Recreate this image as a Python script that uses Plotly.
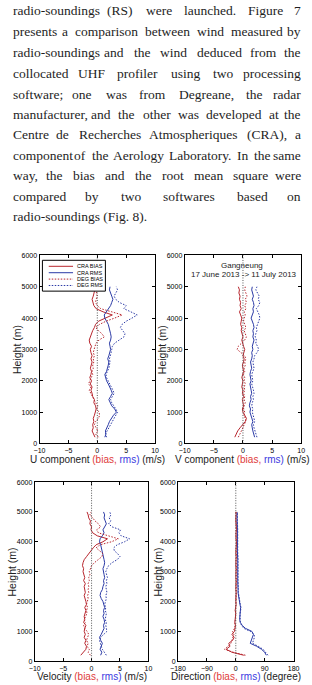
import plotly.graph_objects as go

W, H = 312, 685

# ---------------- text paragraph ----------------
paragraph_lines = [
    "radio-soundings (RS) were launched. Figure 7",
    "presents a comparison between wind measured by",
    "radio-soundings and the wind deduced from the",
    "collocated UHF profiler using two processing",
    "software; one was from Degreane, the radar",
    "manufacturer, and the other was developed at the",
    "Centre de Recherches Atmospheriques (CRA), a",
    "component of the Aerology Laboratory. In the same",
    "way, the bias and the root mean square were",
    "compared by two softwares based on",
    "radio-soundings (Fig. 8).",
]
line_centers = [7, 28, 49, 70, 91, 111.5, 132, 153, 173.5, 194, 215]

# ---------------- data ----------------
heights = [200, 300, 400, 500, 600, 700, 800, 900, 1000, 1100, 1200, 1300, 1400,
           1500, 1600, 1700, 1800, 1900, 2000, 2100, 2200, 2300, 2400, 2500, 2600,
           2700, 2800, 2900, 3000, 3100, 3200, 3300, 3400, 3500, 3600, 3700, 3800,
           3900, 4000, 4100, 4200, 4300, 4400, 4500, 4600, 4700, 4800, 4900, 5000]

u_cra_bias = [-0.4, -0.6, -0.9, -0.7, -0.8, -0.6, -0.7, -0.5, -0.4, -0.2, -0.3, -0.6, -0.5,
              -0.8, -0.9, -1.1, -0.9, -1.2, -1.0, -1.3, -1.1, -1.0, -1.2, -1.0, -0.9,
              -1.1, -0.9, -1.1, -1.2, -1.0, -1.3, -1.4, -1.2, -1.1, -0.8, -0.5, -0.3,
              0.2, 1.5, 2.6, 1.0, -0.2, -0.6, -0.8, -0.9, -0.7, -0.6, -0.4, -0.3]
u_deg_bias = [0.2, -0.3, 0.1, -0.2, -0.5, -0.3, 0.2, 0.4, 0.3, -0.1, 0.1, -0.3, -0.6,
              -0.9, -1.2, -1.4, -1.1, -1.5, -1.3, -1.0, -0.8, -0.9, -0.7, -0.8, -0.6,
              -0.7, -0.5, -0.7, -0.6, -0.4, -0.2, 0.3, 1.2, 0.8, 0.2, -0.3, 0.4,
              1.5, 3.0, 4.3, 2.5, 0.6, 0.0, -0.3, -0.2, 0.0, -0.2, 0.1, -0.1]
u_cra_rms = [1.3, 1.5, 1.4, 1.7, 1.9, 2.1, 2.4, 2.8, 3.3, 3.0, 2.5, 2.2, 2.0,
             2.3, 2.6, 2.4, 2.2, 1.9, 1.6, 1.4, 1.3, 1.6, 1.8, 1.9, 2.0,
             1.8, 2.0, 2.2, 2.3, 2.2, 2.1, 2.3, 2.4, 2.3, 2.2, 2.0, 1.9,
             1.6, 1.3, 1.2, 1.6, 2.0, 2.3, 2.5, 2.7, 2.5, 2.3, 2.1, 2.2]
u_deg_rms = [1.6, 1.4, 1.7, 2.0, 2.2, 2.5, 2.8, 3.2, 3.5, 3.2, 2.8, 2.5, 2.3,
             2.6, 2.9, 2.7, 2.4, 2.1, 1.8, 1.6, 1.5, 1.8, 2.0, 2.1, 2.2,
             2.1, 2.3, 2.4, 2.5, 2.6, 3.0, 3.8, 4.6, 4.8, 4.4, 4.0, 4.3,
             5.0, 6.0, 6.9, 5.8, 4.6, 5.0, 3.8, 3.2, 2.9, 3.2, 3.5, 3.3]

v_cra_bias = [-1.4, -1.2, -0.9, -0.5, -0.1, 0.4, 0.6, 0.3, 0.0, -0.1, 0.1, 0.0, -0.1,
              0.1, -0.1, 0.0, -0.2, -0.1, 0.0, -0.2, -0.1, 0.1, 0.0, -0.1, 0.1,
              0.2, 0.0, 0.2, 0.3, 0.1, -0.1, -0.2, 0.0, -0.1, -0.3, -0.2, -0.4,
              -0.3, -0.2, -0.4, -0.6, -0.3, -0.5, -0.4, -0.6, -0.5, -0.7, -0.6, -0.8]
v_deg_bias = [-0.8, -0.5, -0.3, 0.0, 0.2, 0.5, 0.4, 0.2, 0.3, 0.1, 0.2, 0.4, 0.2,
              0.3, 0.1, 0.3, 0.2, 0.4, 0.2, 0.3, 0.1, 0.3, 0.2, 0.4, 0.3,
              0.5, 0.3, -0.3, -1.0, -0.8, -0.2, 0.3, 0.6, 0.4, 0.2, 0.5, 0.3,
              0.1, 0.2, 0.4, 0.2, 0.5, 0.3, 0.6, 0.4, 0.7, 0.5, 0.3, 0.4]
v_cra_rms = [2.0, 1.8, 1.7, 1.6, 1.5, 1.7, 1.5, 1.3, 1.2, 1.3, 1.1, 1.2, 1.4,
             1.3, 1.5, 1.4, 1.3, 1.2, 1.4, 1.3, 1.2, 1.3, 1.5, 1.4, 1.3,
             1.5, 1.6, 1.5, 1.7, 1.6, 1.8, 1.9, 1.7, 1.8, 1.7, 1.9, 1.8,
             1.6, 1.4, 1.6, 1.8, 1.7, 1.9, 1.8, 1.6, 1.8, 1.7, 1.5, 1.6]
v_deg_rms = [2.4, 2.2, 2.0, 1.9, 1.8, 2.0, 1.9, 1.7, 1.6, 1.7, 1.5, 1.6, 1.8,
             1.7, 1.9, 1.8, 1.6, 1.5, 1.7, 1.6, 1.5, 1.7, 1.9, 1.8, 1.7,
             1.9, 2.0, 2.4, 2.7, 2.5, 2.2, 2.3, 2.1, 2.2, 2.4, 2.3, 2.5,
             2.7, 2.9, 2.8, 2.5, 2.3, 2.7, 2.9, 2.6, 2.8, 2.5, 2.2, 2.4]

vel_cra_bias = [-1.9, -1.4, -1.0, -0.9, -1.2, -1.0, -1.3, -1.1, -1.3, -1.2, -1.0, -1.4, -1.2,
                -1.3, -1.1, -1.0, -1.2, -0.9, -1.0, -1.2, -1.3, -1.1, -1.2, -1.3, -1.1,
                -1.4, -1.2, -1.4, -1.5, -1.4, -1.6, -1.5, -1.3, -0.9, -0.5, -0.2, 0.3,
                0.8, 2.0, 2.8, 1.0, 0.2, -0.1, 0.0, -0.3, -0.2, -0.5, -0.6, -0.8]
vel_deg_bias = [-0.2, -0.6, -0.4, -0.8, -0.6, -0.9, -0.7, -0.5, -0.8, -1.2, -1.4, -1.1, -1.3,
                -1.0, -0.8, -0.9, -0.7, -0.9, -0.8, -0.6, -0.7, -0.5, -0.6, -0.5, -0.6,
                -0.4, -0.5, -0.3, -0.4, -0.2, 0.0, 0.5, 1.2, 1.8, 2.0, 1.4, 0.8,
                1.5, 3.5, 4.7, 2.8, 1.2, 0.9, 1.6, 1.2, 0.6, 0.2, -0.3, -0.1]
vel_cra_rms = [1.6, 1.8, 1.5, 1.7, 1.9, 1.6, 1.4, 1.7, 2.0, 2.2, 2.1, 2.3, 2.2,
               2.0, 2.2, 2.1, 2.3, 2.2, 2.0, 1.7, 1.5, 1.6, 1.9, 2.0, 2.2,
               2.1, 2.3, 2.2, 2.1, 2.0, 2.2, 2.3, 2.2, 2.1, 2.0, 1.8, 1.7,
               1.6, 1.4, 1.5, 1.9, 2.2, 2.0, 2.3, 2.6, 2.4, 2.2, 2.3, 2.1]
vel_deg_rms = [2.6, 2.2, 1.9, 1.7, 1.5, 1.4, 1.6, 2.2, 2.7, 2.6, 2.5, 2.6, 2.4,
               2.5, 2.6, 2.4, 2.5, 2.3, 2.4, 2.6, 2.5, 2.7, 2.6, 2.5, 2.7,
               2.6, 2.8, 2.6, 2.5, 2.7, 3.0, 3.6, 4.5, 5.0, 4.6, 4.0, 3.9,
               4.5, 5.8, 6.7, 5.2, 4.8, 5.1, 3.6, 3.0, 3.4, 3.1, 3.4, 3.2]

dir_cra_bias = [25, -12, -30, -18, -22, -10, -5, -12, -4, -3, -1, -3, -2,
                -1, 0, -2, 0, 1, 0, 1, 2, 1, 0, 1, 2,
                1, 0, 1, 2, 1, 0, 1, 2, 1, 0, 1, 0, 1, 2, 1, 0, 1, 2, 1, 0, 1, 0, 1, 0]
dir_deg_bias = [30, -8, -35, -25, -15, -12, -8, -6, -10, -4, -2, -3, -1,
                -2, -1, 0, -1, 0, 1, 0, 1, 2, 1, 0, 1,
                2, 1, 0, 1, 2, 1, 0, 1, 2, 1, 0, 1, 2, 1, 0, 1, 0, 1, 2, 1, 0, 1, 0, 1]
dir_cra_rms = [95, 90, 80, 65, 45, 48, 52, 55, 50, 30, 20, 14, 12,
               13, 12, 14, 15, 13, 11, 9, 8, 7, 7, 6, 7,
               6, 6, 7, 6, 6, 5, 6, 6, 5, 6, 5, 5, 6, 5, 5, 4, 5, 5, 4, 5, 4, 4, 5, 4]
dir_deg_rms = [100, 93, 85, 70, 52, 55, 58, 57, 45, 25, 18, 14, 13,
               14, 13, 15, 16, 14, 12, 10, 9, 8, 8, 7, 8,
               7, 7, 8, 7, 7, 6, 7, 7, 6, 7, 6, 6, 7, 6, 6, 5, 6, 6, 5, 6, 5, 5, 6, 5]

series_names = ["CRA BIAS", "CRA RMS", "DEG BIAS", "DEG RMS"]
x_ticks_wind = [-10, -5, 0, 5, 10]
x_ticks_dir = [-180, -90, 0, 90, 180]
y_ticks = [0, 1000, 2000, 3000, 4000, 5000, 6000]

RED = "#b8262e"
BLUE = "#2b3aa6"
TRED = "#e03a3a"
TBLUE = "#3a3ae0"
SANS = "Liberation Sans"
SERIF = "Liberation Serif"

def px(x):
    return x / W

def py(y):
    return 1 - y / H

panels = [
    dict(box=(33, 154, 254, 444), data=(u_cra_bias, u_cra_rms, u_deg_bias, u_deg_rms),
         rng=[-10, 10], ticks=x_ticks_wind, title="U component", unit="(m/s)",
         ytitle_x=10, xtitle_y=460),
    dict(box=(185, 307, 254, 444), data=(v_cra_bias, v_cra_rms, v_deg_bias, v_deg_rms),
         rng=[-10, 10], ticks=x_ticks_wind, title="V component", unit="(m/s)",
         ytitle_x=162, xtitle_y=460),
    dict(box=(28, 147, 483, 664), data=(vel_cra_bias, vel_cra_rms, vel_deg_bias, vel_deg_rms),
         rng=[-10, 10], ticks=x_ticks_wind, title="Velocity", unit="(m/s)",
         ytitle_x=4, xtitle_y=679),
    dict(box=(178, 299, 483, 664), data=(dir_cra_bias, dir_cra_rms, dir_deg_bias, dir_deg_rms),
         rng=[-180, 180], ticks=x_ticks_dir, title="Direction", unit="(degree)",
         ytitle_x=157, xtitle_y=679),
]

fig = go.Figure()
annotations = []
shapes = []
styles = [(RED, "solid"), (BLUE, "solid"), (RED, "1.5px,1.5px"), (BLUE, "1.5px,1.5px")]

layout_axes = {}
for i, p in enumerate(panels):
    n = "" if i == 0 else str(i + 1)
    x0, x1, y0, y1 = p["box"]
    for vals, name, (col, dash) in zip(p["data"], series_names, styles):
        fig.add_trace(go.Scatter(x=vals, y=heights, mode="lines", name=name,
                                 line=dict(color=col, width=1, dash=dash),
                                 xaxis="x" + n, yaxis="y" + n, showlegend=False))
    common = dict(showline=True, linecolor="black", linewidth=1, mirror="ticks",
                  ticks="inside", ticklen=3, tickwidth=1, tickcolor="black",
                  showgrid=False, zeroline=False,
                  tickfont=dict(family=SANS, size=7, color="black"))
    layout_axes["xaxis" + n] = dict(domain=[px(x0), px(x1)], range=p["rng"],
                                    tickvals=p["ticks"], anchor="y" + n, **common)
    layout_axes["yaxis" + n] = dict(domain=[py(y1), py(y0)], range=[0, 6000],
                                    tickvals=y_ticks, anchor="x" + n, **common)
    shapes.append(dict(type="line", xref="x" + n, yref="y" + n + " domain",
                       x0=0, x1=0, y0=0, y1=1,
                       line=dict(color="#555555", width=1, dash="1px,1.5px")))
    annotations.append(dict(
        text=(p["title"] + ' <span style="color:%s">(bias,</span> '
              '<span style="color:%s">rms)</span> ' % (TRED, TBLUE)) + p["unit"],
        x=px((x0 + x1) / 2), y=py(p["xtitle_y"]), xref="paper", yref="paper",
        xanchor="center", yanchor="middle", showarrow=False,
        font=dict(family=SANS, size=10, color="#222222")))
    annotations.append(dict(
        text="Height (m)", x=px(p["ytitle_x"]), y=py((y0 + y1) / 2),
        xref="paper", yref="paper", xanchor="center", yanchor="middle",
        textangle=-90, showarrow=False,
        font=dict(family=SANS, size=10.5, color="#222222")))

# legend in panel 1 (drawn in axis-domain coordinates)
shapes.append(dict(type="rect", xref="x domain", yref="y domain",
                   x0=0.025, x1=0.57, y0=0.81, y1=0.974,
                   line=dict(color="black", width=1), fillcolor="white", layer="above"))
leg_rows = [0.942, 0.908, 0.874, 0.840]
for (col, dash), name, ry in zip(styles, series_names, leg_rows):
    shapes.append(dict(type="line", xref="x domain", yref="y domain",
                       x0=0.08, x1=0.29, y0=ry, y1=ry, layer="above",
                       line=dict(color=col, width=1, dash=dash)))
    annotations.append(dict(text=name, x=0.31, y=ry, xref="x domain", yref="y domain",
                            xanchor="left", yanchor="middle", showarrow=False,
                            font=dict(family=SANS, size=5.5, color="black")))

annotations.append(dict(text="Gangneung", x=px(245), y=py(264), xref="paper", yref="paper",
                        showarrow=False, xanchor="center", yanchor="middle",
                        font=dict(family=SANS, size=8, color="#222222")))
annotations.append(dict(text="17 June 2013 -> 11 July 2013", x=px(247), y=py(273),
                        xref="paper", yref="paper", showarrow=False,
                        xanchor="center", yanchor="middle",
                        font=dict(family=SANS, size=8, color="#222222")))

# justified paragraph (Liberation Serif has Times metrics)
TW = {'a': 444, 'b': 500, 'c': 444, 'd': 500, 'e': 444, 'f': 333, 'g': 500, 'h': 500,
      'i': 278, 'j': 278, 'k': 500, 'l': 278, 'm': 778, 'n': 500, 'o': 500, 'p': 500,
      'q': 500, 'r': 333, 's': 389, 't': 278, 'u': 500, 'v': 500, 'w': 722, 'x': 500,
      'y': 500, 'z': 444, 'A': 722, 'B': 667, 'C': 667, 'D': 722, 'E': 611, 'F': 556,
      'G': 722, 'H': 722, 'I': 333, 'J': 389, 'K': 722, 'L': 611, 'M': 889, 'N': 722,
      'O': 722, 'P': 556, 'Q': 722, 'R': 667, 'S': 556, 'T': 611, 'U': 722, 'V': 722,
      'W': 944, 'X': 722, 'Y': 722, 'Z': 611, '(': 333, ')': 333, ',': 250, '.': 250,
      '-': 333, ';': 278, ':': 278}
FS = 13.5
LEFT, RIGHT = 3, 309
for li, (line, yc) in enumerate(zip(paragraph_lines, line_centers)):
    if li == len(paragraph_lines) - 1:
        annotations.append(dict(text=line, x=px(LEFT), y=py(yc), xref="paper", yref="paper",
                                xanchor="left", yanchor="middle", showarrow=False,
                                font=dict(family=SERIF, size=FS, color="#1e1e1e")))
        continue
    words = line.split()
    widths = [sum(TW.get(c, 500) for c in w) * FS / 1000 for w in words]
    gap = (RIGHT - LEFT - sum(widths)) / (len(words) - 1)
    x = LEFT
    for wi, (w, wd) in enumerate(zip(words, widths)):
        if wi == 0:
            xa, xpos = "left", x
        elif wi == len(words) - 1:
            xa, xpos = "right", RIGHT
        else:
            xa, xpos = "center", x + wd / 2
        annotations.append(dict(text=w, x=px(xpos), y=py(yc), xref="paper", yref="paper",
                                xanchor=xa, yanchor="middle", showarrow=False,
                                font=dict(family=SERIF, size=FS, color="#1e1e1e")))
        x += wd + gap

fig.update_layout(width=W, height=H, margin=dict(l=0, r=0, t=0, b=0),
                  paper_bgcolor="white", plot_bgcolor="white",
                  annotations=annotations, shapes=shapes, **layout_axes)
fig.write_html("out.html")
